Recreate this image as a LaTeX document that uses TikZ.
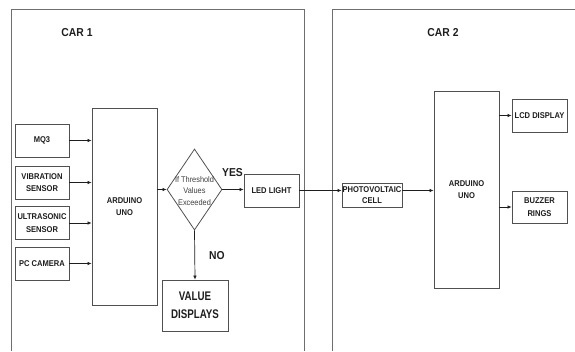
\documentclass[tikz,border=0pt]{standalone}
\usepackage{fontspec}
\setmainfont{Liberation Sans}
\newfontfamily\narrowsans[FakeStretch=0.9]{Liberation Sans}
\newfontfamily\tightsans[FakeStretch=0.78]{Liberation Sans}
\usetikzlibrary{arrows.meta,calc,positioning,shapes.geometric}
\definecolor{Frame}{HTML}{6E6E6E}
\definecolor{Edge}{HTML}{505050}
\definecolor{Ink}{HTML}{1E1E1E}

\tikzset{
  blockbox/.style={draw=Edge,line width=0.8pt,fill=white,inner sep=0pt,align=center,
    text=Ink,font=\narrowsans\fontsize{8.4}{12.5}\selectfont\bfseries},
  framestyle/.style={draw=Frame,line width=0.8pt},
  flow/.style={-{Latex[length=4pt,width=3.6pt]},Ink,line width=0.7pt},
  headlab/.style={text=Ink,font=\narrowsans\fontsize{11.5}{13}\selectfont\bfseries}
}

\begin{document}
\begin{tikzpicture}[x=1pt,y=-1pt]
    \useasboundingbox (0,0) rectangle (575,351);

    % the two cars
    \draw[framestyle] (11,351) -- (11,9) -- (304,9) -- (304,351);
    \draw[framestyle] (332,351) -- (332,9) -- (575,9);
    \node[headlab] (car1) at (77,33) {CAR 1};
    \node[headlab] (car2) at (443,33) {CAR 2};

    % car 1
    \node[blockbox,minimum width=65pt,minimum height=197pt] (uno1) at (124.5,206.5) {ARDUINO\\UNO};
    \foreach \y/\name/\lab in {140.5/mq/MQ3,182.5/vib/{VIBRATION\\SENSOR},223/ultra/{ULTRASONIC\\SENSOR},263.5/cam/{PC CAMERA}} {
      \node[blockbox,minimum width=54pt,minimum height=33pt] (\name) at (42,\y) {\lab};
      \draw[flow] (\name.east) -- (\name.east -| uno1.west);
    }

    \node[draw=Edge,line width=0.8pt,shape=diamond,inner sep=0pt,
          minimum width=55pt,minimum height=81pt] (check) at (194.5,189.5) {};
    \node[align=center,text=Ink!85,font=\narrowsans\fontsize{8.2}{11.5}\selectfont] (checktext) at (194.5,191)
      {If Threshold\\Values\\Exceeded};
    \draw[flow] (uno1.east |- check.west) -- (check.west);

    \node[blockbox,minimum width=55pt,minimum height=33pt] (led) at (271.5,190.5) {LED LIGHT};
    \draw[flow] (check.east) -- (check.east -| led.west);
    \node[headlab] (yes) at (232.5,173) {YES};

    \node[blockbox,minimum width=66pt,minimum height=51pt,
          font=\tightsans\fontsize{12.5}{18}\selectfont\bfseries] (vals) at (195,305.5) {VALUE\\DISPLAYS};
    \draw[flow] (check.south) -- (vals.north);
    \node[headlab] (no) at (217,256) {NO};

    % car 2
    \node[blockbox,minimum width=60pt,minimum height=24pt,
          font=\narrowsans\fontsize{8.4}{10.5}\selectfont\bfseries] (pv) at (372,195) {PHOTOVOLTAIC\\CELL};
    \node[blockbox,minimum width=65pt,minimum height=197pt] (uno2) at (466.5,189.5) {ARDUINO\\UNO};
    \draw[flow] (led.east) -- (led.east -| pv.west);
    \draw[flow] (pv.east |- led.east) -- (uno2.west |- led.east);

    \node[blockbox,minimum width=55pt,minimum height=33pt] (lcd) at (539.5,115.5) {LCD DISPLAY};
    \node[blockbox,minimum width=55pt,minimum height=32pt] (buzz) at (539.5,207) {BUZZER\\RINGS};
    \draw[flow] (uno2.east |- lcd.west) -- (lcd.west);
    \draw[flow] (uno2.east |- buzz.west) -- (buzz.west);
\end{tikzpicture}
\end{document}
